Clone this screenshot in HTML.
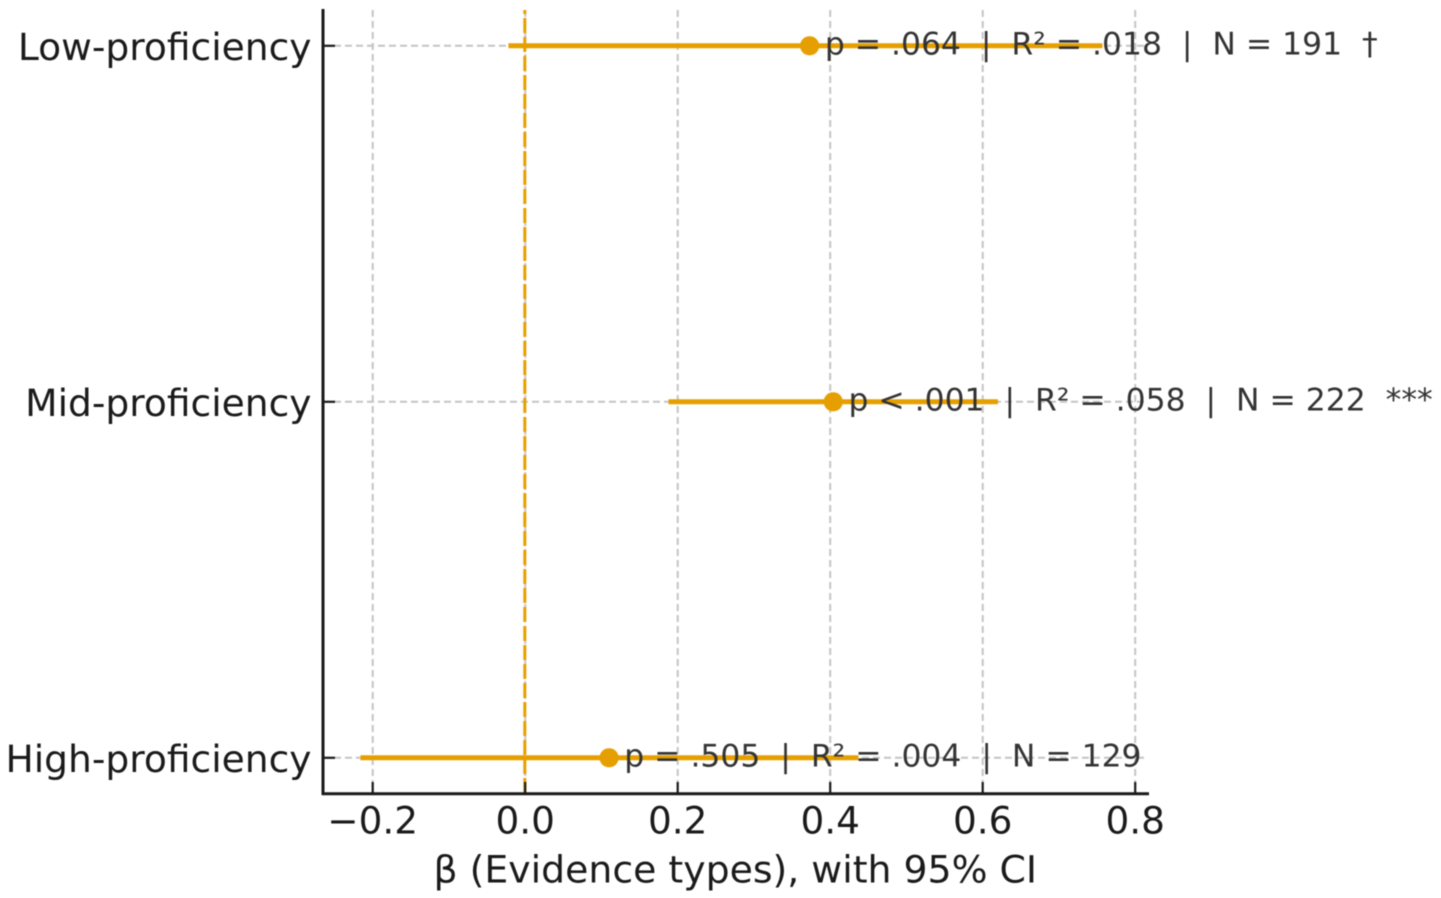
<!DOCTYPE html>
<html lang="en">
<head>
<meta charset="utf-8">
<title>Forest plot</title>
<style>
html,body{margin:0;padding:0;background:#fff;width:1441px;height:898px;overflow:hidden}
svg{display:block}
text{font-family:"DejaVu Sans","Liberation Sans",sans-serif;white-space:pre}
</style>
</head>
<body>
<svg id="chart" width="1441" height="898" viewBox="0 0 1441 898" xmlns="http://www.w3.org/2000/svg">
<g id="plot" style="filter:blur(0.5px)"></g>
</svg>
<script>
const categories = ["Low-proficiency", "Mid-proficiency", "High-proficiency"];
const categoryPositions = [2, 1, 0];
const betaValues = [0.373, 0.404, 0.11];
const ciLower = [-0.022, 0.188, -0.216];
const ciUpper = [0.757, 0.62, 0.437];
const annotations = [
  "p = .064  |  R\u00B2 = .018  |  N = 191  \u2020",
  "p < .001  |  R\u00B2 = .058  |  N = 222  ***",
  "p = .505  |  R\u00B2 = .004  |  N = 129"
];
const xTicks = [-0.2, 0, 0.2, 0.4, 0.6, 0.8];
const xTickLabels = ["\u22120.2", "0.0", "0.2", "0.4", "0.6", "0.8"];
const xTitle = "\u03B2 (Evidence types), with 95% CI";

const xScale = function (v) { return 525.2 + v * 762.5; };
const yScale = function (v) { return 757.8 - v * 356; };
const root = document.getElementById('plot');
const NS = 'http://www.w3.org/2000/svg';
const ORANGE = '#E69F00';
const INK = '#1a1a1a';

function make(tag, attrs, text) {
  const el = document.createElementNS(NS, tag);
  for (const k in attrs) el.setAttribute(k, attrs[k]);
  if (text !== undefined) el.textContent = text;
  root.appendChild(el);
  return el;
}

xTicks.forEach(function (t) {
  const el = make('line', {x1: xScale(t), x2: xScale(t), y1: 10, y2: 794, stroke: '#c4c4c4', 'stroke-width': 2, 'stroke-dasharray': '7 4'});
  
  
});

categories.forEach(function (c, i) {
  const y = yScale(categoryPositions[i]);
  const el = make('line', {x1: 323, x2: 1148, y1: y, y2: y, stroke: '#c4c4c4', 'stroke-width': 2, 'stroke-dasharray': '7 4'});
  
  
});

const zero = make('line', {x1: xScale(0) - 0.4, x2: xScale(0) - 0.4, y1: 10, y2: 794, stroke: ORANGE, 'stroke-width': 3, 'stroke-dasharray': '15 4', 'stroke-dashoffset': 11});



categories.forEach(function (c, i) {
  const y = yScale(categoryPositions[i]);
  const ci = make('line', {x1: xScale(ciLower[i]), x2: xScale(ciUpper[i]), y1: y, y2: y, stroke: ORANGE, 'stroke-width': 5});
  
  

  const dot = make('circle', {cx: xScale(betaValues[i]), cy: y, r: 9.6, fill: ORANGE});
  
  

  const note = make('text', {x: xScale(betaValues[i]) + 15.2, y: y + 8.8, 'font-size': 31.4, fill: '#333333'}, annotations[i]);
  
  

  const tick = make('line', {x1: 323, x2: 335, y1: y, y2: y, stroke: INK, 'stroke-width': 2.2});
  
  

  const label = make('text', {x: 311.5, y: y + 14.4, 'text-anchor': 'end', 'font-size': 37.6, fill: INK}, c);
  
  
});

xTicks.forEach(function (t, i) {
  const tick = make('line', {x1: xScale(t), x2: xScale(t), y1: 782, y2: 794, stroke: INK, 'stroke-width': 2.2});
  
  

  const label = make('text', {x: xScale(t), y: 833.3, 'text-anchor': 'middle', 'font-size': 37.4, fill: INK}, xTickLabels[i]);
  
  
});

const spineLeft = make('line', {x1: 323, x2: 323, y1: 9, y2: 795, stroke: INK, 'stroke-width': 3});



const spineBottom = make('line', {x1: 322, x2: 1149, y1: 793.7, y2: 793.7, stroke: INK, 'stroke-width': 3});



const title = make('text', {x: 735.3, y: 882.3, 'text-anchor': 'middle', 'font-size': 37.8, fill: INK}, xTitle);


</script>
</body>
</html>
